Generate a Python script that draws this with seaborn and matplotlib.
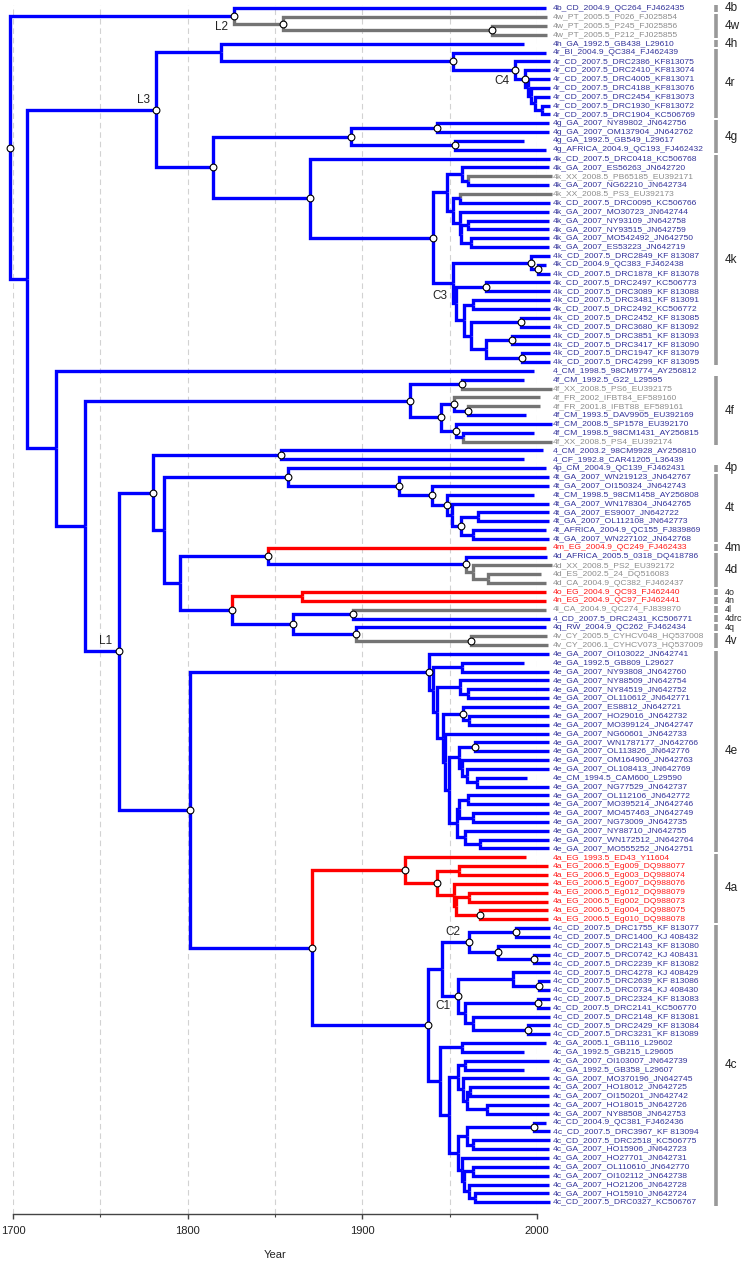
import matplotlib
matplotlib.use("Agg")
import matplotlib.pyplot as plt
import pandas as pd
import seaborn as sns

# tip labels, top to bottom (tip number = position + 1)
tip_labels = [
    "4b_CD_2004.9_QC264_FJ462435",
    "4w_PT_2005.5_P026_FJ025854",
    "4w_PT_2005.5_P245_FJ025856",
    "4w_PT_2005.5_P212_FJ025855",
    "4h_GA_1992.5_GB438_L29610",
    "4r_BI_2004.9_QC384_FJ462439",
    "4r_CD_2007.5_DRC2386_KF813075",
    "4r_CD_2007.5_DRC2410_KF813074",
    "4r_CD_2007.5_DRC4005_KF813071",
    "4r_CD_2007.5_DRC4188_KF813076",
    "4r_CD_2007.5_DRC2454_KF813073",
    "4r_CD_2007.5_DRC1930_KF813072",
    "4r_CD_2007.5_DRC1904_KC506769",
    "4g_GA_2007_NY89802_JN642756",
    "4g_GA_2007_OM137904_JN642762",
    "4g_GA_1992.5_GB549_L29617",
    "4g_AFRICA_2004.9_QC193_FJ462432",
    "4k_CD_2007.5_DRC0418_KC506768",
    "4k_GA_2007_ES56263_JN642720",
    "4k_XX_2008.5_PB65185_EU392171",
    "4k_GA_2007_NG62210_JN642734",
    "4k_XX_2008.5_PS3_EU392173",
    "4k_CD_2007.5_DRC0095_KC506766",
    "4k_GA_2007_MO30723_JN642744",
    "4k_GA_2007_NY93109_JN642758",
    "4k_GA_2007_NY93515_JN642759",
    "4k_GA_2007_MO542492_JN642750",
    "4k_GA_2007_ES53223_JN642719",
    "4k_CD_2007.5_DRC2849_KF 813087",
    "4k_CD_2004.9_QC383_FJ462438",
    "4k_CD_2007.5_DRC1878_KF 813078",
    "4k_CD_2007.5_DRC2497_KC506773",
    "4k_CD_2007.5_DRC3089_KF 813088",
    "4k_CD_2007.5_DRC3481_KF 813091",
    "4k_CD_2007.5_DRC2492_KC506772",
    "4k_CD_2007.5_DRC2452_KF 813085",
    "4k_CD_2007.5_DRC3680_KF 813092",
    "4k_CD_2007.5_DRC3851_KF 813093",
    "4k_CD_2007.5_DRC3417_KF 813090",
    "4k_CD_2007.5_DRC1947_KF 813079",
    "4k_CD_2007.5_DRC4299_KF 813095",
    "4_CM_1998.5_98CM9774_AY256812",
    "4f_CM_1992.5_G22_L29595",
    "4f_XX_2008.5_PS6_EU392175",
    "4f_FR_2002_IFBT84_EF589160",
    "4f_FR_2001.8_IFBT88_EF589161",
    "4f_CM_1993.5_DAV9905_EU392169",
    "4f_CM_2008.5_SP1578_EU392170",
    "4f_CM_1998.5_98CM1431_AY256815",
    "4f_XX_2008.5_PS4_EU392174",
    "4_CM_2003.2_98CM9928_AY256810",
    "4_CF_1992.8_CAR41205_L36439",
    "4p_CM_2004.9_QC139_FJ462431",
    "4t_GA_2007_WN219123_JN642767",
    "4t_GA_2007_OI150324_JN642743",
    "4t_CM_1998.5_98CM1458_AY256808",
    "4t_GA_2007_WN178304_JN642765",
    "4t_GA_2007_ES9007_JN642722",
    "4t_GA_2007_OL112108_JN642773",
    "4t_AFRICA_2004.9_QC155_FJ839869",
    "4t_GA_2007_WN227102_JN642768",
    "4m_EG_2004.9_QC249_FJ462433",
    "4d_AFRICA_2005.5_0318_DQ418786",
    "4d_XX_2008.5_PS2_EU392172",
    "4d_ES_2002.5_24_DQ516083",
    "4d_CA_2004.9_QC382_FJ462437",
    "4o_EG_2004.9_QC93_FJ462440",
    "4n_EG_2004.9_QC97_FJ462441",
    "4l_CA_2004.9_QC274_FJ839870",
    "4_CD_2007.5_DRC2431_KC506771",
    "4q_RW_2004.9_QC262_FJ462434",
    "4v_CY_2005.5_CYHCV048_HQ537008",
    "4v_CY_2006.1_CYHCV073_HQ537009",
    "4e_GA_2007_OI103022_JN642741",
    "4e_GA_1992.5_GB809_L29627",
    "4e_GA_2007_NY93808_JN642760",
    "4e_GA_2007_NY88509_JN642754",
    "4e_GA_2007_NY84519_JN642752",
    "4e_GA_2007_OL110612_JN642771",
    "4e_GA_2007_ES8812_JN642721",
    "4e_GA_2007_HO29016_JN642732",
    "4e_GA_2007_MO399124_JN642747",
    "4e_GA_2007_NG60601_JN642733",
    "4e_GA_2007_WN1787177_JN642766",
    "4e_GA_2007_OL113826_JN642776",
    "4e_GA_2007_OM164906_JN642763",
    "4e_GA_2007_OL108413_JN642769",
    "4e_CM_1994.5_CAM600_L29590",
    "4e_GA_2007_NG77529_JN642737",
    "4e_GA_2007_OL112106_JN642772",
    "4e_GA_2007_MO395214_JN642746",
    "4e_GA_2007_MO457463_JN642749",
    "4e_GA_2007_NG73009_JN642735",
    "4e_GA_2007_NY88710_JN642755",
    "4e_GA_2007_WN172512_JN642764",
    "4e_GA_2007_MO555252_JN642751",
    "4a_EG_1993.5_ED43_Y11604",
    "4a_EG_2006.5_Eg009_DQ988077",
    "4a_EG_2006.5_Eg003_DQ988074",
    "4a_EG_2006.5_Eg007_DQ988076",
    "4a_EG_2006.5_Eg012_DQ988079",
    "4a_EG_2006.5_Eg002_DQ988073",
    "4a_EG_2006.5_Eg004_DQ988075",
    "4a_EG_2006.5_Eg010_DQ988078",
    "4c_CD_2007.5_DRC1755_KF 813077",
    "4c_CD_2007.5_DRC1400_KJ 408432",
    "4c_CD_2007.5_DRC2143_KF 813080",
    "4c_CD_2007.5_DRC0742_KJ 408431",
    "4c_CD_2007.5_DRC2239_KF 813082",
    "4c_CD_2007.5_DRC4278_KJ 408429",
    "4c_CD_2007.5_DRC2639_KF 813086",
    "4c_CD_2007.5_DRC0734_KJ 408430",
    "4c_CD_2007.5_DRC2324_KF 813083",
    "4c_CD_2007.5_DRC2141_KC506770",
    "4c_CD_2007.5_DRC2148_KF 813081",
    "4c_CD_2007.5_DRC2429_KF 813084",
    "4c_CD_2007.5_DRC3231_KF 813089",
    "4c_GA_2005.1_GB116_L29602",
    "4c_GA_1992.5_GB215_L29605",
    "4c_GA_2007_OI103007_JN642739",
    "4c_GA_1992.5_GB358_L29607",
    "4c_GA_2007_MO370196_JN642745",
    "4c_GA_2007_HO18012_JN642725",
    "4c_GA_2007_OI150201_JN642742",
    "4c_GA_2007_HO18015_JN642726",
    "4c_GA_2007_NY88508_JN642753",
    "4c_CD_2004.9_QC381_FJ462436",
    "4c_CD_2007.5_DRC3967_KF 813094",
    "4c_CD_2007.5_DRC2518_KC506775",
    "4c_GA_2007_HO15906_JN642723",
    "4c_GA_2007_HO27701_JN642731",
    "4c_GA_2007_OL110610_JN642770",
    "4c_GA_2007_OI102112_JN642738",
    "4c_GA_2007_HO21206_JN642728",
    "4c_GA_2007_HO15910_JN642724",
    "4c_CD_2007.5_DRC0327_KC506767",
]

red_countries = ["EG"]
grey_countries = ["PT", "XX", "FR", "ES", "CA", "CY"]

# internal nodes: (name, date of node, supported?, children)
# children are tip numbers or names of nodes listed earlier
nodes_4b_4w = [
    ("w2", 1974.1, 1, [3, 4]),
    ("w1", 1854.6, 1, [2, "w2"]),
    ("L2", 1826.5, 1, [1, "w1"]),
]
nodes_4h_4r = [
    ("r5", 2002.7, 0, [12, 13]),
    ("r4", 1998.9, 0, [11, "r5"]),
    ("r3", 1996.6, 0, [10, "r4"]),
    ("r2", 1994.8, 0, [9, "r3"]),
    ("r1", 1993.1, 1, [8, "r2"]),
    ("C4", 1987.4, 1, [7, "r1"]),
    ("r0", 1952.1, 1, [6, "C4"]),
    ("h0", 1819.1, 0, [5, "r0"]),
]
nodes_4g = [
    ("g1", 1942.9, 1, [14, 15]),
    ("g2", 1953.0, 1, [16, 17]),
    ("g0", 1893.5, 1, ["g1", "g2"]),
]
nodes_4k = [
    ("k21", 1960.3, 0, [20, 21]),
    ("k19", 1957.2, 0, [19, "k21"]),
    ("k22", 1955.9, 0, [22, 23]),
    ("k25", 1960.3, 0, [25, 26]),
    ("k27", 1962.2, 0, [27, 28]),
    ("k25b", 1956.5, 0, ["k25", "k27"]),
    ("k24", 1955.9, 0, [24, "k25b"]),
    ("k22b", 1952.1, 0, ["k22", "k24"]),
    ("kU", 1948.3, 0, ["k19", "k22b"]),
    ("k30", 2000.4, 1, [30, 31]),
    ("k29", 1996.6, 1, [29, "k30"]),
    ("k32", 1970.6, 1, [32, 33]),
    ("k34", 1963.5, 0, [34, 35]),
    ("k36", 1990.7, 1, [36, 37]),
    ("k38", 1985.9, 1, [38, 39]),
    ("k40", 1991.2, 1, [40, 41]),
    ("k38b", 1970.6, 0, ["k38", "k40"]),
    ("k36b", 1962.2, 0, ["k36", "k38b"]),
    ("k34b", 1958.4, 0, ["k34", "k36b"]),
    ("k32b", 1953.6, 0, ["k32", "k34b"]),
    ("C3", 1952.1, 0, ["k29", "k32b"]),
    ("kC", 1940.6, 1, ["kU", "C3"]),
    ("k0", 1870.0, 1, [18, "kC"]),
    ("gk", 1814.5, 1, ["g0", "k0"]),
    ("L3", 1782.0, 1, ["h0", "gk"]),
]
nodes_4f = [
    ("f43", 1957.2, 1, [43, 44]),
    ("f46", 1960.3, 1, [46, 47]),
    ("f45", 1952.6, 1, [45, "f46"]),
    ("f49", 1957.8, 0, [49, 50]),
    ("f48", 1953.6, 1, [48, "f49"]),
    ("f45b", 1945.0, 1, ["f45", "f48"]),
    ("f0", 1927.3, 1, ["f43", "f45b"]),
]
nodes_4p_4t = [
    ("n51", 1853.4, 1, [51, 52]),
    ("t58", 1966.4, 0, [58, 59]),
    ("t60", 1963.2, 0, [60, 61]),
    ("t58b", 1956.5, 1, ["t58", "t60"]),
    ("t57", 1951.3, 0, [57, "t58b"]),
    ("t56", 1948.6, 1, [56, "t57"]),
    ("t55", 1940.0, 1, [55, "t56"]),
    ("t0", 1921.0, 1, [54, "t55"]),
    ("p0", 1857.4, 1, [53, "t0"]),
]
nodes_4m_to_4v = [
    ("d65", 1972.1, 0, [65, 66]),
    ("d64", 1963.5, 0, [64, "d65"]),
    ("d0", 1959.3, 1, [63, "d64"]),
    ("md", 1846.0, 1, [62, "d0"]),
    ("on", 1865.5, 0, [67, 68]),
    ("l0", 1894.7, 1, [69, 70]),
    ("v0", 1962.0, 1, [72, 73]),
    ("q0", 1896.4, 1, [71, "v0"]),
    ("lq", 1860.3, 1, ["l0", "q0"]),
    ("onlq", 1825.4, 1, ["on", "lq"]),
    ("H", 1795.6, 0, ["md", "onlq"]),
    ("F", 1786.4, 0, ["p0", "H"]),
    ("D", 1780.2, 1, ["n51", "F"]),
]
nodes_4e = [
    ("e75", 1956.9, 0, [75, 76]),
    ("e78", 1960.7, 0, [78, 79]),
    ("e77", 1955.9, 0, [77, "e78"]),
    ("e81", 1961.2, 0, [81, 82]),
    ("e80", 1957.8, 1, [80, "e81"]),
    ("e84", 1964.5, 1, [84, 85]),
    ("e88", 1965.5, 0, [88, 89]),
    ("e87", 1959.7, 0, [87, "e88"]),
    ("e86", 1956.9, 0, [86, "e87"]),
    ("e84b", 1955.5, 0, ["e84", "e86"]),
    ("e90", 1960.7, 0, [90, 91]),
    ("e92", 1963.5, 0, [92, 93]),
    ("e90b", 1955.5, 0, ["e90", "e92"]),
    ("e95", 1967.4, 0, [95, 96]),
    ("e94", 1958.8, 0, [94, "e95"]),
    ("e90c", 1954.2, 0, ["e90b", "e94"]),
    ("e5", 1949.8, 0, ["e84b", "e90c"]),
    ("e4", 1947.3, 0, [83, "e5"]),
    ("e3", 1945.9, 0, ["e80", "e4"]),
    ("e2", 1942.6, 0, ["e77", "e3"]),
    ("e1", 1940.3, 0, ["e75", "e2"]),
    ("e0", 1938.3, 1, [74, "e1"]),
]
nodes_4a = [
    ("a98", 1955.5, 0, [98, 99]),
    ("a101", 1961.1, 0, [101, 102]),
    ("a103", 1967.4, 1, [103, 104]),
    ("a101b", 1953.6, 0, ["a101", "a103"]),
    ("a100", 1952.5, 0, [100, "a101b"]),
    ("a98b", 1942.6, 1, ["a98", "a100"]),
    ("a0", 1924.4, 1, [97, "a98b"]),
]
nodes_4c = [
    ("c105", 1988.0, 1, [105, 106]),
    ("c108", 1998.3, 1, [108, 109]),
    ("c107", 1977.8, 1, [107, "c108"]),
    ("C2", 1961.1, 1, ["c105", "c107"]),
    ("c111", 2001.3, 1, [111, 112]),
    ("c110", 1986.1, 0, [110, "c111"]),
    ("c113", 2000.4, 1, [113, 114]),
    ("c116", 1994.7, 1, [116, 117]),
    ("c115", 1963.2, 0, [115, "c116"]),
    ("c113b", 1958.8, 0, ["c113", "c115"]),
    ("C1", 1954.6, 1, ["c110", "c113b"]),
    ("cP", 1945.8, 0, ["C2", "C1"]),
    ("c118", 1956.9, 0, [118, 119]),
    ("c120", 1958.8, 0, [120, 121]),
    ("c123", 1961.6, 0, [123, 124]),
    ("c125", 1971.5, 0, [125, 126]),
    ("c123b", 1960.1, 0, ["c123", "c125"]),
    ("c122", 1957.8, 0, [122, "c123b"]),
    ("c120b", 1954.9, 0, ["c120", "c122"]),
    ("c127", 1998.5, 1, [127, 128]),
    ("c129", 1963.5, 0, [129, 130]),
    ("c127b", 1960.1, 0, ["c127", "c129"]),
    ("c132", 1963.5, 0, [132, 133]),
    ("c135", 1964.5, 0, [135, 136]),
    ("c134", 1961.2, 0, [134, "c135"]),
    ("c132b", 1958.4, 0, ["c132", "c134"]),
    ("c131", 1956.9, 0, [131, "c132b"]),
    ("c127c", 1954.9, 0, ["c127b", "c131"]),
    ("cY2", 1949.6, 0, ["c120b", "c127c"]),
    ("cY", 1944.5, 0, ["c118", "cY2"]),
    ("c0", 1937.6, 1, ["cP", "cY"]),
]
nodes_backbone = [
    ("ac", 1871.2, 1, ["a0", "c0"]),
    ("E", 1801.3, 1, ["e0", "ac"]),
    ("L1", 1760.7, 1, ["D", "E"]),
    ("fL1", 1741.2, 0, ["f0", "L1"]),
    ("B", 1724.6, 0, [42, "fL1"]),
    ("A", 1708.0, 0, ["L3", "B"]),
    ("root", 1698.3, 1, ["L2", "A"]),
]

# subtype bars on the right
group_names = ["4b", "4w", "4h", "4r", "4g", "4k", "4f", "4p", "4t", "4m",
               "4d", "4o", "4n", "4l", "4drc", "4q", "4v", "4e", "4a", "4c"]
group_first = [1, 2, 5, 6, 14, 18, 43, 53, 54, 62, 63, 67, 68, 69, 70, 71, 72, 74, 97, 105]
group_last = [1, 4, 5, 13, 17, 41, 50, 53, 61, 62, 66, 67, 68, 69, 70, 71, 73, 96, 104, 136]

clade_labels = ["L1", "L2", "L3", "C1", "C2", "C3", "C4"]
label_offset = {"L1": (-10, 7.4), "L2": (-9, -7.7), "L3": (-9.4, 7.2), "C1": (-10.4, -7.5),
                "C2": (-11.3, 7.4), "C3": (-9.6, -9.4), "C4": (-9.6, -7.9)}

nodes = (nodes_4b_4w + nodes_4h_4r + nodes_4g + nodes_4k + nodes_4f + nodes_4p_4t
         + nodes_4m_to_4v + nodes_4e + nodes_4a + nodes_4c + nodes_backbone)

assert len(tip_labels) == 136

sns.set_style("white")
plt.rcParams["font.family"] = ["Liberation Sans", "DejaVu Sans"]

branch_col = {"blue": "#0000ff", "grey": "#747474", "red": "#ff0000"}
text_col = {"blue": "#33339a", "grey": "#8c8c8c", "red": "#ff1a1a"}


def kind(c):
    if c in red_countries:
        return "red"
    if c in grey_countries:
        return "grey"
    return "blue"


X, Y, K = {}, {}, {}
for n, lab in enumerate(tip_labels, 1):
    parts = lab.split("_")
    X[n] = float(parts[2])
    Y[n] = n - 1
    K[n] = {kind(parts[1])}
for name, date, sup, kids in nodes:
    X[name] = date
    Y[name] = (Y[kids[0]] + Y[kids[-1]]) / 2
    K[name] = set().union(*(K[k] for k in kids))


def colour_of(key):
    s = K[key]
    if s == {"red"}:
        return "red"
    if s == {"grey"}:
        return "grey"
    return "blue"


fig = plt.figure(figsize=(7.48, 12.61), dpi=100)
ax = fig.add_axes([13 / 748, 1 - 1214 / 1261, 524 / 748, 1209 / 1261])

# branches (elbows from each node to each child)
for name, date, sup, kids in nodes:
    for k in kids:
        ax.plot([date, date, X[k]], [Y[name], Y[k], Y[k]],
                color=branch_col[colour_of(k)], lw=2.4,
                solid_joinstyle="miter", solid_capstyle="butt",
                clip_on=False, zorder=3)

# supported nodes
sup_df = pd.DataFrame({"date": [X[n[0]] for n in nodes if n[2]],
                       "y": [Y[n[0]] for n in nodes if n[2]]})
sns.scatterplot(data=sup_df, x="date", y="y", s=24, color="white",
                edgecolor="black", linewidth=0.8, zorder=6, clip_on=False,
                legend=False, ax=ax)

# tip labels
for n, lab in enumerate(tip_labels, 1):
    ax.text(2009.3, Y[n], lab, fontsize=6.1, color=text_col[kind(lab.split("_")[1])],
            ha="left", va="center", clip_on=False)

# subtype bars
for g, a, b in zip(group_names, group_first, group_last):
    ax.plot([2102.3, 2102.3], [a - 1 - 0.38, b - 1 + 0.38], color="#999999",
            lw=2.6, solid_capstyle="butt", clip_on=False)
    fs = 8.5 if (b > a or g in ("4b", "4h", "4p", "4m")) else 6.4
    ax.text(2107.3, (a + b) / 2 - 1, g, fontsize=fs, color="#222222",
            ha="left", va="center", clip_on=False)

# clade labels
for lab in clade_labels:
    ax.annotate(lab, (X[lab], Y[lab]), xytext=label_offset[lab],
                textcoords="offset points", fontsize=8.5, color="#222222",
                ha="center", va="center", annotation_clip=False)

ax.set_xlim(1700, 2000)
ax.set_ylim(136.33, -0.373)
ax.set_xticks([1700, 1800, 1900, 2000])
ax.set_xticks([1750, 1850, 1950], minor=True)
ax.set_yticks([])
ax.grid(axis="x", which="both", linestyle=(0, (5, 3.5)), color="#d2d2d2", lw=0.8)
ax.set_axisbelow(True)
for side in ["left", "top", "right"]:
    ax.spines[side].set_visible(False)
ax.spines["bottom"].set_color("#444444")
ax.spines["bottom"].set_linewidth(1.0)
ax.tick_params(axis="x", which="major", bottom=True, direction="out", length=3.5,
               width=1.0, color="#444444", labelsize=8, labelcolor="#222222", pad=5)
ax.tick_params(axis="x", which="minor", bottom=True, direction="out", length=2,
               width=0.8, color="#444444")
ax.set_xlabel("Year", fontsize=8, color="#222222", labelpad=10)
ax.set_ylabel("")

fig.savefig("out.png", dpi=100)
